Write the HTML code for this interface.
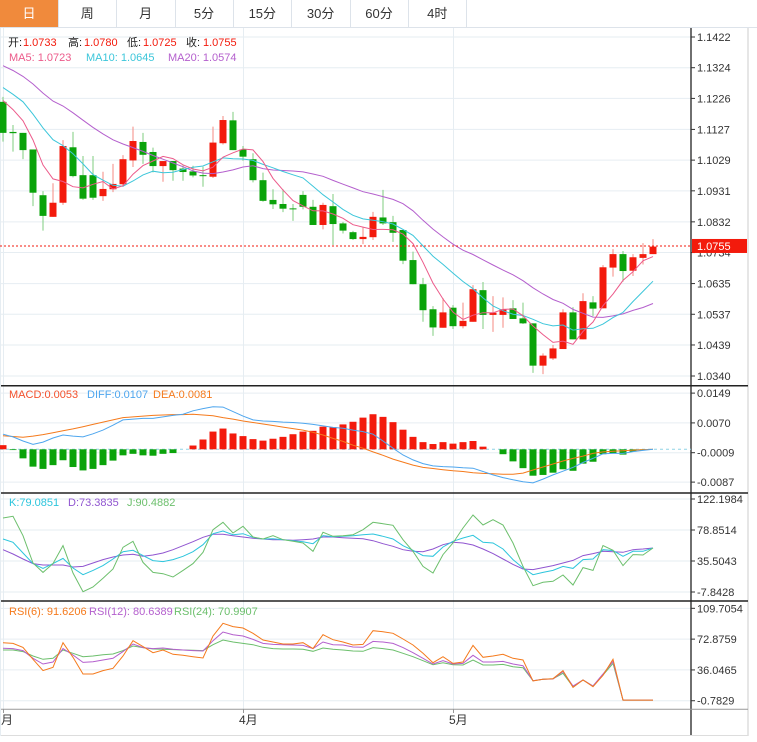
<!DOCTYPE html>
<html><head><meta charset="utf-8">
<style>
html,body{margin:0;padding:0;background:#fff;width:757px;height:742px;overflow:hidden;font-family:"Liberation Sans","Noto Sans CJK SC",sans-serif;}
#tabs{position:absolute;left:0;top:0;height:27px;width:757px;border-bottom:1px solid #dde3ea;}
.tab{position:absolute;top:0;height:27px;width:58px;border-right:1px solid #dde3ea;text-align:center;line-height:27px;font-size:13px;color:#333;}
.tab.sel{background:#f08a3c;color:#fff;}
svg{position:absolute;left:0;top:0;}
</style></head><body>
<div id="tabs">
<div class="tab sel" style="left:0">日</div>
<div class="tab" style="left:58.3px">周</div>
<div class="tab" style="left:116.6px">月</div>
<div class="tab" style="left:175px">5分</div>
<div class="tab" style="left:233.3px">15分</div>
<div class="tab" style="left:291.6px">30分</div>
<div class="tab" style="left:350px">60分</div>
<div class="tab" style="left:408.3px">4时</div>
</div>
<svg id="chart" width="757" height="742" style="top:0"></svg>
<script>
const priorCloses=[1.1420,1.1440,1.1410,1.1430,1.1400,1.1390,1.1410,1.1380,1.1370,1.1350,1.1330,1.1300,1.1320,1.1290,1.1270,1.1260,1.1240,1.1230,1.1250];
const opens=[1.1215,1.1119,1.1116,1.1063,1.0917,1.0848,1.0893,1.1070,1.0981,1.0981,1.0914,1.0936,1.0952,1.1028,1.1087,1.1055,1.1010,1.1026,1.1002,1.0993,1.0981,1.0976,1.1083,1.1156,1.1063,1.1032,1.0965,1.0902,1.0889,1.0875,1.0918,1.0880,1.0822,1.0882,1.0827,1.0799,1.0777,1.0783,1.0846,1.0831,1.0806,1.0710,1.0633,1.0553,1.0494,1.0558,1.0499,1.0513,1.0614,1.0535,1.0535,1.0556,1.0524,1.0508,1.0373,1.0396,1.0426,1.0543,1.0457,1.0575,1.0556,1.0686,1.0729,1.0676,1.0717,1.0729];
const highs=[1.1231,1.1141,1.1116,1.1063,1.0930,1.0955,1.1093,1.1119,1.1042,1.1042,1.0992,1.1017,1.1045,1.1136,1.1116,1.1069,1.1026,1.1026,1.1012,1.1011,1.1008,1.1136,1.1170,1.1183,1.1074,1.1051,1.0989,1.0936,1.0936,1.0889,1.0930,1.0902,1.0893,1.0921,1.0832,1.0803,1.0814,1.0864,1.0934,1.0851,1.0806,1.0737,1.0653,1.0563,1.0589,1.0566,1.0574,1.0630,1.0640,1.0595,1.0591,1.0582,1.0574,1.0508,1.0412,1.0439,1.0553,1.0560,1.0604,1.0595,1.0694,1.0745,1.0739,1.0729,1.0764,1.0777];
const lows=[1.1088,1.1056,1.1032,1.0882,1.0804,1.0848,1.0886,1.0974,1.0902,1.0902,1.0899,1.0927,1.0944,1.1007,1.1017,1.0990,1.0960,1.0963,1.0963,1.0974,1.0944,1.0972,1.1079,1.1061,1.1027,1.0958,1.0896,1.0873,1.0863,1.0835,1.0872,1.0822,1.0808,1.0758,1.0795,1.0774,1.0761,1.0774,1.0822,1.0768,1.0697,1.0633,1.0513,1.0468,1.0494,1.0490,1.0492,1.0513,1.0490,1.0481,1.0494,1.0522,1.0506,1.0350,1.0346,1.0391,1.0426,1.0457,1.0457,1.0531,1.0556,1.0657,1.0641,1.0659,1.0696,1.0729];
const closes=[1.1116,1.1115,1.1061,1.0925,1.0851,1.0893,1.1074,1.0978,1.0906,1.0909,1.0937,1.0953,1.1032,1.1090,1.1046,1.1010,1.1026,1.0997,1.0991,1.0980,1.0979,1.1085,1.1157,1.1061,1.1040,1.0965,1.0899,1.0888,1.0874,1.0873,1.0880,1.0822,1.0886,1.0825,1.0804,1.0777,1.0784,1.0848,1.0827,1.0797,1.0708,1.0633,1.0550,1.0495,1.0543,1.0499,1.0516,1.0617,1.0535,1.0542,1.0553,1.0522,1.0508,1.0373,1.0405,1.0428,1.0543,1.0457,1.0579,1.0555,1.0687,1.0729,1.0675,1.0719,1.0729,1.0753];
const priceTicks=["1.1422","1.1324","1.1226","1.1127","1.1029","1.0931","1.0832","1.0734","1.0635","1.0537","1.0439","1.0340"];
const lastPrice=1.0755;
const macdHist=[0.0011,-0.0002,-0.0024,-0.0046,-0.0052,-0.0042,-0.0029,-0.0047,-0.0056,-0.0052,-0.0042,-0.0030,-0.0016,-0.0012,-0.0016,-0.0017,-0.0012,-0.0010,0.0000,0.0010,0.0026,0.0047,0.0055,0.0042,0.0035,0.0027,0.0023,0.0028,0.0033,0.0040,0.0047,0.0049,0.0060,0.0059,0.0066,0.0073,0.0084,0.0093,0.0086,0.0072,0.0052,0.0033,0.0019,0.0014,0.0019,0.0015,0.0019,0.0022,0.0007,0.0000,-0.0013,-0.0032,-0.0050,-0.0070,-0.0068,-0.0062,-0.0053,-0.0057,-0.0038,-0.0033,-0.0013,-0.0010,-0.0014,-0.0006,-0.0003,0.0000];
const diffVals=[0.0040,0.0033,0.0022,0.0013,0.0019,0.0030,0.0038,0.0035,0.0033,0.0041,0.0051,0.0064,0.0078,0.0080,0.0082,0.0082,0.0086,0.0090,0.0093,0.0102,0.0108,0.0113,0.0112,0.0100,0.0088,0.0078,0.0075,0.0074,0.0072,0.0071,0.0069,0.0066,0.0062,0.0058,0.0056,0.0051,0.0047,0.0040,0.0022,0.0003,-0.0015,-0.0028,-0.0038,-0.0044,-0.0046,-0.0047,-0.0049,-0.0050,-0.0059,-0.0068,-0.0075,-0.0081,-0.0086,-0.0089,-0.0079,-0.0068,-0.0058,-0.0048,-0.0035,-0.0024,-0.0012,-0.0011,-0.0011,-0.0006,-0.0003,0.0000];
const deaVals=[0.0036,0.0034,0.0032,0.0035,0.0039,0.0044,0.0049,0.0054,0.0060,0.0066,0.0072,0.0078,0.0084,0.0086,0.0088,0.0090,0.0091,0.0092,0.0092,0.0093,0.0091,0.0089,0.0084,0.0080,0.0075,0.0071,0.0067,0.0063,0.0059,0.0055,0.0051,0.0045,0.0038,0.0029,0.0021,0.0011,0.0003,-0.0007,-0.0016,-0.0026,-0.0034,-0.0042,-0.0048,-0.0051,-0.0054,-0.0057,-0.0059,-0.0062,-0.0064,-0.0065,-0.0066,-0.0066,-0.0063,-0.0055,-0.0047,-0.0039,-0.0031,-0.0024,-0.0018,-0.0011,-0.0007,-0.0005,-0.0004,-0.0002,-0.0001,0.0000];
const macdTicks=["0.0149","0.0070","-0.0009","-0.0087"];
const kVals=[66.3,61.6,46.7,31.8,25.2,31.8,39.2,25.7,16.4,22.4,29,38.3,48.5,50.4,43,36,34.6,37.4,42,48.5,58.3,73.7,77.5,72.3,73.7,68.6,66.3,66.7,65.3,63.9,62.5,59.7,71,69.3,70,70.9,72.3,73.3,70,66.3,56.9,50.4,43,42,55.1,63,67.7,71.4,61.6,60.7,52.3,37.4,25.7,16.4,19.6,22.4,28,25.2,37.4,38.3,51.3,50,42,49,49,53.7];
const dVals=[51.3,45.3,38.3,31.8,29.9,29.9,29.9,27.1,28,32.7,37.4,41.1,43.9,44.8,42,43.9,46.7,51.3,56.9,62.5,68.6,72.8,72.8,70.9,69.1,67.2,66.3,65.3,65.3,64.4,65.3,66.3,69.1,69.1,68.1,67.2,66.7,63.9,59.7,56,51.3,49,48.5,52.3,58.3,61.6,60.7,57.9,52.3,45.8,38.3,30.8,24.3,23.4,26.2,29,32.7,36.4,43,45.8,49,48.5,47.6,51.3,52.3,53.7];
const jVals=[95.6,98,70.9,32.7,19.6,31.8,57,18.7,-7.4,-0.9,11.3,24.3,54.6,63,33.6,19.6,17.8,13.1,22.4,31.8,47.6,79.3,89.6,74.7,84,69.1,66.3,70.9,65.3,63,60.7,49,75.6,70,70.9,72.3,79.3,89.6,87.7,85.4,65.3,49,28,18.7,44.4,60.7,81.6,99.8,85.8,93.3,85.8,60.7,28,1,5.7,7.1,15.9,1.9,26.2,22.4,57,50.4,29,44.4,43.9,53.7];
const kdjTicks=["122.1984","78.8514","35.5043","-7.8428"];
const rsi6=[68.6,67.8,63,48.7,35.2,39.2,68.6,51.1,31.2,31.2,35.2,38,52.7,71,63.9,56.7,59.9,54.7,53.5,51.9,50.3,76.6,91.8,87.8,86.2,79.8,71.8,69.4,67,67,68.6,61.5,78.2,72.2,69.4,65.9,66.6,83,81.8,79.8,73,65.9,55.9,44.7,51.9,43.9,45.5,65.4,51.1,52.7,54.7,49.9,47.9,22.8,24.8,25.6,35.2,15.2,24,16,29.6,48.7,0,0,0,0];
const rsi12=[61.9,61.5,59.1,49.9,43.1,45.5,61.5,53.9,45.1,45.9,47.9,49.9,57.9,67,62.7,61.5,62.3,60.7,59.9,59.1,58.7,71,81.4,78.2,76.6,72.6,67.8,66.6,66.2,65.9,65.4,61.5,69.4,66.2,65.9,63.5,63.1,70.2,69.4,67.8,62.7,56.7,49.9,43.1,47.1,43.1,43.9,53.5,45.5,45.5,46.3,43.1,41.1,23.2,24.8,25.2,34,16.8,24,16.8,31.2,46.3,0,0,0,0];
const rsi24=[59.9,59.9,57.9,52.7,48.7,49.9,59.9,55.9,51.9,52.7,54.3,55.1,59.1,64.7,62.7,61.1,60.7,60.3,59.9,59.5,59.1,66.2,71.8,69.4,67.8,66.2,63.1,61.5,61.1,61.1,60.7,58.3,62.3,60.7,59.9,58.7,58.3,62.7,61.5,59.9,55.9,51.9,47.1,42.3,44.7,42.3,41.9,47.9,41.9,41.9,42.7,39.9,38.7,23.2,24.8,25.6,32,16,24,16.8,30,43.9,0,0,0,0];
const rsiTicks=["109.7054","72.8759","36.0465","-0.7829"];
const monthLabels=["月","4月","5月"];
const monthIdx=[0,24,45];

const NS="http://www.w3.org/2000/svg";
const svg=document.getElementById('chart');
function mk(tag,attrs,parent){const e=document.createElementNS(NS,tag);for(const k in attrs)e.setAttribute(k,attrs[k]);(parent||svg).appendChild(e);return e;}
function txt(x,y,s,fill,size,parent){const t=mk('text',{x:x,y:y,fill:fill,'font-size':size||12,'font-family':'"Liberation Sans","Noto Sans CJK SC",sans-serif'},parent);t.textContent=s;return t;}
const xOf=i=>3+i*10;
const yP=p=>37+(1.1422-p)*3133;
const yM=v=>449.3-v*3771;
const yK=v=>493+(130.6-v)*0.715;
const yR=v=>600+(119.66-v)*0.8363;
const AX=691;

const grid=mk('g',{});


priceTicks.forEach(t=>mk('line',{x1:0,x2:AX,y1:yP(+t),y2:yP(+t),stroke:'#e6edf2'},grid));
macdTicks.forEach(t=>mk('line',{x1:0,x2:AX,y1:yM(+t),y2:yM(+t),stroke:'#e6edf2'},grid));
kdjTicks.forEach(t=>mk('line',{x1:0,x2:AX,y1:yK(+t),y2:yK(+t),stroke:'#e6edf2'},grid));
rsiTicks.forEach(t=>mk('line',{x1:0,x2:AX,y1:yR(+t),y2:yR(+t),stroke:'#e6edf2'},grid));
monthIdx.forEach(i=>mk('line',{x1:xOf(i)+0.5,x2:xOf(i)+0.5,y1:28,y2:709,stroke:'#e6edf2'},grid));

const fr=mk('g',{});


mk('line',{x1:AX,x2:AX,y1:28,y2:736,stroke:'#222','stroke-width':1.3},fr);
mk('line',{x1:748,x2:748,y1:28,y2:736,stroke:'#ccc'},fr);
[385.7,493,601].forEach(y=>mk('line',{x1:0,x2:748,y1:y,y2:y,stroke:'#222','stroke-width':1.5},fr));
mk('line',{x1:0,x2:748,y1:709.3,y2:709.3,stroke:'#999'},fr);
mk('line',{x1:0,x2:748,y1:735.5,y2:735.5,stroke:'#ddd'},fr);
mk('line',{x1:0.5,x2:0.5,y1:28,y2:736,stroke:'#e6edf2'},fr);

function axisLabels(ticks,fn,name){const g=mk('g',{});
 ticks.forEach(t=>{const y=fn(+t);mk('line',{x1:AX,x2:AX+4,y1:y,y2:y,stroke:'#333'},g);txt(AX+6,y+4,t,'#333',11,g);});}
axisLabels(priceTicks,yP,'price-axis');
axisLabels(macdTicks,yM,'macd-axis');
axisLabels(kdjTicks,yK,'kdj-axis');
axisLabels(rsiTicks,yR,'rsi-axis');
const mg=mk('g',{});


monthIdx.forEach((i,k)=>{mk('line',{x1:xOf(i)+0.5,x2:xOf(i)+0.5,y1:709,y2:713,stroke:'#999'},mg);const s=monthLabels[k];txt(k==0?1:xOf(i)-4,724,s,'#333',12,mg);});

const cg=mk('g',{});


closes.forEach((c,i)=>{const o=opens[i],up=c>=o,col=up?'#f31a0c':'#0aa30a',wc=up?'#f58a80':'#7fce7f';const x=xOf(i);
 mk('line',{x1:x,x2:x,y1:yP(highs[i]),y2:yP(lows[i]),stroke:wc,'stroke-width':1},cg);
 const yt=yP(Math.max(o,c)),yb=yP(Math.min(o,c));
 const r=mk('rect',{x:x-3.5,y:yt,width:7,height:Math.max(1,yb-yt),fill:col},cg);
 
 });

const all=priorCloses.concat(closes);const off=priorCloses.length;
function ma(n){return closes.map((c,i)=>{let s=0;for(let k=0;k<n;k++)s+=all[off+i-k];return s/n;});}
function line(vals,fn,color,name,w){const d=vals.map((v,i)=>(i?'L':'M')+xOf(i)+','+fn(v).toFixed(1)).join('');const p=mk('path',{d:d,fill:'none',stroke:color,'stroke-width':w||1});return p;}
line(ma(20),yP,'#b45fcd','ma20-line');
line(ma(10),yP,'#3cc6da','ma10-line');
line(ma(5),yP,'#ec5a8a','ma5-line');

const lp=mk('g',{});


mk('line',{x1:0,x2:AX,y1:yP(lastPrice),y2:yP(lastPrice),stroke:'#f31a0c','stroke-dasharray':'2,2'},lp);
mk('rect',{x:AX+1,y:yP(lastPrice)-7,width:55,height:14,fill:'#f31a0c'},lp);
txt(AX+6,yP(lastPrice)+4,lastPrice.toFixed(4),'#fff',11,lp);

const hg=mk('g',{});


mk('line',{x1:0,x2:AX,y1:yM(0),y2:yM(0),stroke:'#8fd3e6','stroke-dasharray':'3,3'},hg);
macdHist.forEach((v,i)=>{if(Math.abs(v)<0.00005)return;const y0=yM(0),y1=yM(v);const b=mk('rect',{x:xOf(i)-3.5,y:Math.min(y0,y1),width:7,height:Math.abs(y1-y0),fill:v>0?'#f31a0c':'#0aa30a'},hg);
 
 });
line(deaVals,yM,'#f57a1c','dea-line');
line(diffVals,yM,'#4ea6ee','diff-line');
line(dVals,yK,'#9055d0','kdj-d-line');
line(kVals,yK,'#2cc5dc','kdj-k-line');
line(jVals,yK,'#6cbf6c','kdj-j-line');
line(rsi24,yR,'#6cbf6c','rsi24-line');
line(rsi12,yR,'#b45fcd','rsi12-line');
line(rsi6,yR,'#f57a1c','rsi6-line');

function legend(y,items,name){const g=mk('g',{});items.forEach(it=>txt(it[0],y,it[1],it[2],11,g));}
legend(46,[[8,'开:','#222'],[23,'1.0733','#f31a0c'],[68,'高:','#222'],[84,'1.0780','#f31a0c'],[127,'低:','#222'],[143,'1.0725','#f31a0c'],[186,'收:','#222'],[203,'1.0755','#f31a0c']],'ohlc-legend');
legend(61,[[9,'MA5: 1.0723','#ec5a8a'],[86,'MA10: 1.0645','#3cc6da'],[168,'MA20: 1.0574','#b45fcd']],'ma-legend');
legend(398,[[9,'MACD:0.0053','#f3502c'],[87,'DIFF:0.0107','#4ea6ee'],[153,'DEA:0.0081','#f57a1c']],'macd-legend');
legend(506,[[9,'K:79.0851','#2cc5dc'],[68,'D:73.3835','#9055d0'],[127,'J:90.4882','#6cbf6c']],'kdj-legend');
legend(615,[[9,'RSI(6): 91.6206','#f57a1c'],[89,'RSI(12): 80.6389','#b45fcd'],[174,'RSI(24): 70.9907','#6cbf6c']],'rsi-legend');
</script>
</body></html>
